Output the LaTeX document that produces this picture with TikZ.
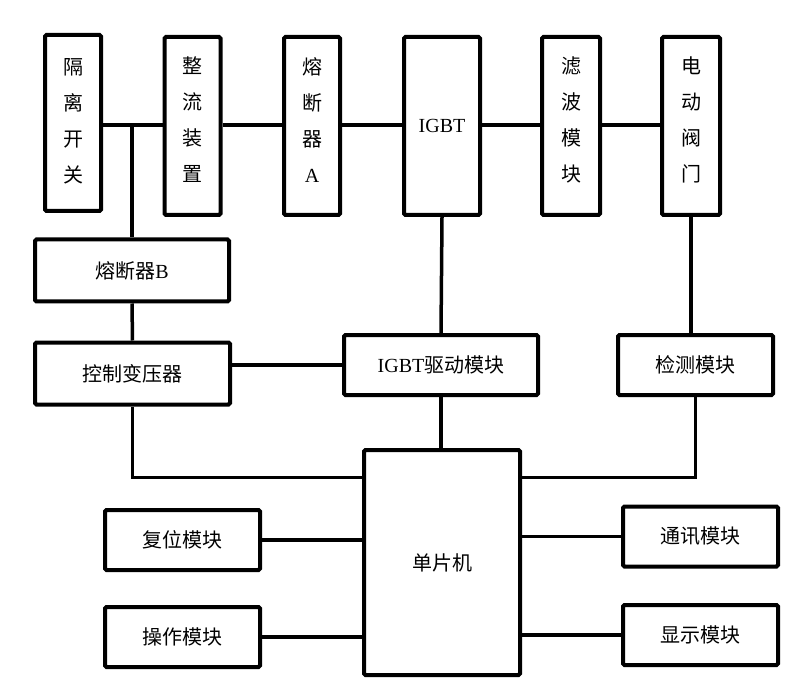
\documentclass[tikz,border=0pt]{standalone}
\usepackage{fontspec}
\setmainfont{Liberation Serif}
\newfontfamily\cjk{Noto Sans CJK SC}
\begin{document}
\begin{tikzpicture}[x=1pt,y=-1pt,
  box/.style={draw, line width=4pt, rounded corners=1.5pt, inner sep=0pt, align=center,
    font=\cjk\fontsize{20}{36}\selectfont},
  vtext/.style={inner sep=0pt, align=center, font=\cjk\fontsize{20}{36}\selectfont},
  wire/.style={line width=3.5pt}]
\useasboundingbox[fill=white] (0,0) rectangle (805,700);
% top row
\node[box, minimum width=56pt, minimum height=176pt] (geli) at (73,123) {};
\node[box, minimum width=56pt, minimum height=178pt] (zhengliu) at (192.5,126) {};
\node[box, minimum width=56pt, minimum height=178pt] (rdqA) at (312,126) {};
\node[box, minimum width=76pt, minimum height=178pt] (igbt) at (442,126) {\rmfamily IGBT};
\node[box, minimum width=58pt, minimum height=178pt] (lvbo) at (571,126) {};
\node[box, minimum width=58pt, minimum height=178pt] (diandong) at (691,126) {};
\node[vtext] (geli-t) at (73,121) {隔\\离\\开\\关};
\node[vtext] (zhengliu-t) at (192.5,120) {整\\流\\装\\置};
\node[vtext] (rdqA-t) at (312,120) {熔\\断\\器\\\rmfamily A};
\node[vtext] (lvbo-t) at (571,120) {滤\\波\\模\\块};
\node[vtext] (diandong-t) at (691,120) {电\\动\\阀\\门};
% middle
\node[box, minimum width=194pt, minimum height=62pt] (rdqB) at (132,270.5) {熔断器{\rmfamily B}};
\node[box, minimum width=195pt, minimum height=62pt] (kzbyq) at (132.5,373.5) {控制变压器};
\node[box, minimum width=194pt, minimum height=60pt] (igbtdrv) at (441,365) {{\rmfamily IGBT}驱动模块};
\node[box, minimum width=155pt, minimum height=60pt] (jiance) at (695.5,365) {检测模块};
% bottom
\node[box, minimum width=156pt, minimum height=225pt] (mcu) at (442,562.5) {单片机};
\node[box, minimum width=155pt, minimum height=60pt] (fuwei) at (182.5,540) {复位模块};
\node[box, minimum width=155pt, minimum height=60pt] (caozuo) at (182.5,637) {操作模块};
\node[box, minimum width=155pt, minimum height=60pt] (tongxun) at (700.5,536.5) {通讯模块};
\node[box, minimum width=155pt, minimum height=60pt] (xianshi) at (700.5,635) {显示模块};
% bus
\coordinate (bus) at (0,125);
\coordinate (low) at (0,477.5);
\draw[wire] (geli.east |- bus) -- (zhengliu.west |- bus);
\draw[wire] (zhengliu.east |- bus) -- (rdqA.west |- bus);
\draw[wire] (rdqA.east |- bus) -- (igbt.west |- bus);
\draw[wire] (igbt.east |- bus) -- (lvbo.west |- bus);
\draw[wire] (lvbo.east |- bus) -- (diandong.west |- bus);
\draw[wire] (rdqB.north |- bus) -- (rdqB.north);
\draw[wire] (rdqB.south) -- (kzbyq.north);
\draw[wire] (kzbyq.east |- igbtdrv.west) -- (igbtdrv.west);
\draw[wire] (igbt.south) -- (igbtdrv.north);
\draw[wire] (igbtdrv.south) -- (igbtdrv.south |- mcu.north);
\draw[wire] (diandong.south) -- (diandong.south |- jiance.north);
\draw[wire] (kzbyq.south) |- (mcu.west |- low);
\draw[wire] (jiance.south) |- (mcu.east |- low);
\draw[wire] (fuwei.east) -- (fuwei.east -| mcu.west);
\draw[wire] (caozuo.east) -- (caozuo.east -| mcu.west);
\draw[wire] (tongxun.west -| mcu.east) -- (tongxun.west);
\draw[wire] (xianshi.west -| mcu.east) -- (xianshi.west);
\end{tikzpicture}
\end{document}
